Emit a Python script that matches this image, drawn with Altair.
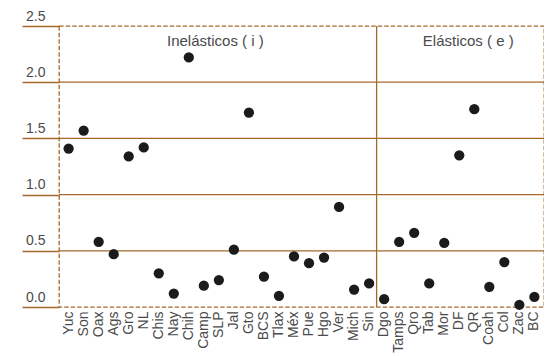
import altair as alt
import pandas as pd

states = ["Yuc", "Son", "Oax", "Ags", "Gro", "NL", "Chis", "Nay", "Chih", "Camp",
          "SLP", "Jal", "Gto", "BCS", "Tlax", "Méx", "Pue", "Hgo", "Ver", "Mich",
          "Sin", "Dgo", "Tamps", "Qro", "Tab", "Mor", "DF", "QR", "Coah", "Col",
          "Zac", "BC"]
values = [1.41, 1.57, 0.58, 0.47, 1.34, 1.42, 0.30, 0.12, 2.22, 0.19,
          0.24, 0.51, 1.73, 0.27, 0.10, 0.45, 0.39, 0.44, 0.89, 0.155,
          0.21, 0.07, 0.58, 0.66, 0.21, 0.57, 1.35, 1.76, 0.18, 0.40,
          0.02, 0.09]
y_ticks = [0.0, 0.5, 1.0, 1.5, 2.0, 2.5]
inner_grid = [0.5, 1.0, 1.5, 2.0]
divider_state = ["Dgo"]
section_labels = ["Inelásticos ( i )", "Elásticos ( e )"]
section_anchor = ["SLP", "DF"]
section_dx = [-3.5, 9]

BROWN = "#A4692C"
GRAY = "#4a4a4a"
FONT = "Liberation Sans"

df = pd.DataFrame({"state": states, "value": values})
grid_df = pd.DataFrame({"v": inner_grid})
div_df = pd.DataFrame({"state": divider_state})

x_scale = alt.Scale(domain=states, paddingInner=0, paddingOuter=0.14)
y_scale = alt.Scale(domain=[0, 2.5], nice=False)

points = alt.Chart(df).mark_circle(size=105, color="#1b1b1b", opacity=1).encode(
    x=alt.X("state:N", sort=states, scale=x_scale,
            axis=alt.Axis(title=None, labelAngle=-90, ticks=False, domain=False,
                          labelPadding=4, labelFontSize=14, labelColor=GRAY,
                          labelFont=FONT, labelOverlap=False)),
    y=alt.Y("value:Q", scale=y_scale,
            axis=alt.Axis(title=None, values=y_ticks, format=".1f", grid=False,
                          domain=False, tickSize=37, tickColor=BROWN, tickWidth=1.3,
                          labelAlign="left", labelBaseline="alphabetic",
                          labelPadding=-3.5, labelOffset=-6, labelFontSize=14,
                          labelColor=GRAY, labelFont=FONT)),
)

grid = alt.Chart(grid_df).mark_rule(color=BROWN, strokeWidth=1.3).encode(
    y=alt.Y("v:Q", scale=y_scale),
)

divider = alt.Chart(div_df).mark_rule(color=BROWN, strokeWidth=1.3).encode(
    x=alt.X("state:N", sort=states, scale=x_scale, bandPosition=0),
    y=alt.datum(0, scale=y_scale),
    y2=alt.datum(2.5),
)

layers = [grid, divider]
for lbl, anc, dx in zip(section_labels, section_anchor, section_dx):
    t = alt.Chart(pd.DataFrame({"state": [anc], "label": [lbl]})).mark_text(
        fontSize=15, color=GRAY, font=FONT, baseline="alphabetic", dx=dx, dy=20,
        align="center"
    ).encode(
        x=alt.X("state:N", sort=states, scale=x_scale),
        y=alt.datum(2.5, scale=y_scale),
        text="label:N",
    )
    layers.append(t)
layers.append(points)

chart = alt.layer(*layers).properties(
    width=485, height=281,
    autosize=alt.AutoSizeParams(type="none"),
    padding={"left": 51, "top": 18, "right": 0, "bottom": 60},
).configure_view(stroke=BROWN, strokeDash=[4.5, 2], strokeWidth=1.3)

chart.save("out.html", embed_options={"renderer": "svg", "actions": False})
